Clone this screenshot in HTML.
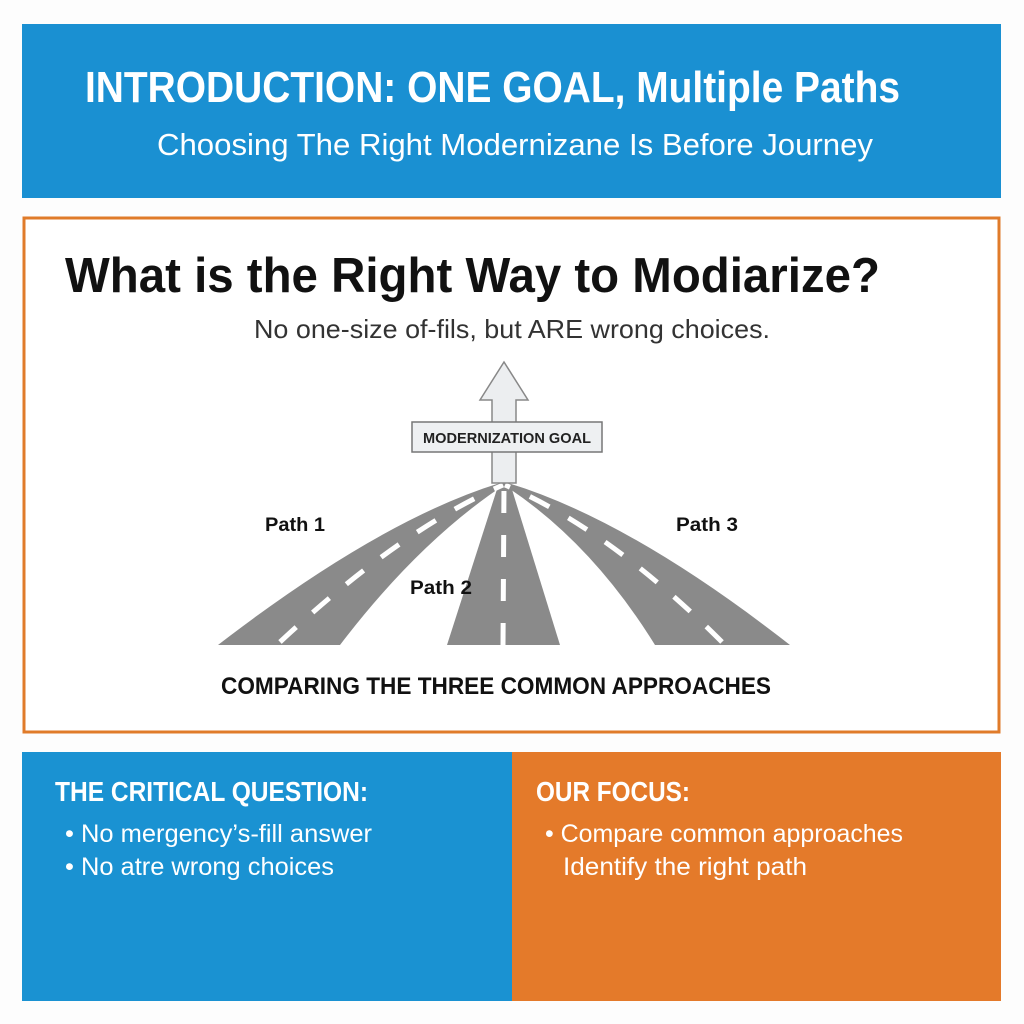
<!DOCTYPE html>
<html><head><meta charset="utf-8"><style>
html,body{margin:0;padding:0;background:#fff;width:1024px;height:1024px;overflow:hidden}
svg{display:block}
</style></head><body>
<svg width="1024" height="1024" viewBox="0 0 1024 1024" xmlns="http://www.w3.org/2000/svg" font-family="Liberation Sans, sans-serif">
<rect width="1024" height="1024" fill="#fdfdfd"/>
<rect x="22" y="24" width="979" height="174" fill="#1a90d2"/>
<text x="85" y="102" font-size="44" font-weight="bold" fill="#fff" textLength="815" lengthAdjust="spacingAndGlyphs">INTRODUCTION: ONE GOAL, Multiple Paths</text>
<text x="157" y="155" font-size="31" fill="#fff" textLength="716" lengthAdjust="spacingAndGlyphs">Choosing The Right Modernizane Is Before Journey</text>

<rect x="24" y="218" width="975" height="514" fill="#fff" stroke="#e07b2a" stroke-width="3"/>
<text x="65" y="292" font-size="49" font-weight="bold" fill="#111" textLength="815" lengthAdjust="spacingAndGlyphs">What is the Right Way to Modiarize?</text>
<text x="254" y="338" font-size="26" fill="#333" textLength="516" lengthAdjust="spacingAndGlyphs">No one-size of-fils, but ARE wrong choices.</text>

<!-- roads -->
<g fill="#8a8a8a">
<path d="M218,645 Q380,520 500,483 L507,483 Q420,540 340,645 Z"/>
<path d="M447,645 L499,483 L510,483 L560,645 Z"/>
<path d="M790,645 Q630,520 508,483 L501,483 Q590,540 655,645 Z"/>
</g>
<g fill="none" stroke="#fff" stroke-width="5" stroke-dasharray="22 22">
<path d="M280,642 Q400,530 503,485"/>
<path d="M503,645 L504,485"/>
<path d="M722,642 Q610,530 505,485"/>
</g>
<!-- arrow -->
<path d="M504,362 L528,400 L516,400 L516,483 L492,483 L492,400 L480,400 Z" fill="#eceef0" stroke="#888" stroke-width="1.5"/>
<rect x="412" y="422" width="190" height="30" fill="#eef0f2" stroke="#777" stroke-width="1.5"/>
<text x="423" y="443" font-size="15" font-weight="bold" fill="#222" textLength="168" lengthAdjust="spacingAndGlyphs">MODERNIZATION GOAL</text>
<text x="265" y="531" font-size="19" font-weight="bold" fill="#111" textLength="60" lengthAdjust="spacingAndGlyphs">Path 1</text>
<text x="410" y="594" font-size="19" font-weight="bold" fill="#111" textLength="62" lengthAdjust="spacingAndGlyphs">Path 2</text>
<text x="676" y="531" font-size="19" font-weight="bold" fill="#111" textLength="62" lengthAdjust="spacingAndGlyphs">Path 3</text>
<text x="221" y="694" font-size="24" font-weight="bold" fill="#111" textLength="550" lengthAdjust="spacingAndGlyphs">COMPARING THE THREE COMMON APPROACHES</text>

<rect x="22" y="752" width="490" height="249" fill="#1a92d2"/>
<rect x="512" y="752" width="489" height="249" fill="#e47a2a"/>
<text x="55" y="801" font-size="28" font-weight="bold" fill="#fff" textLength="313" lengthAdjust="spacingAndGlyphs">THE CRITICAL QUESTION:</text>
<text x="65" y="842" font-size="25" fill="#fff" textLength="307" lengthAdjust="spacingAndGlyphs">• No mergency’s-fill answer</text>
<text x="65" y="875" font-size="25" fill="#fff" textLength="269" lengthAdjust="spacingAndGlyphs">• No atre wrong choices</text>
<text x="536" y="801" font-size="28" font-weight="bold" fill="#fff" textLength="154" lengthAdjust="spacingAndGlyphs">OUR FOCUS:</text>
<text x="545" y="842" font-size="25" fill="#fff" textLength="358" lengthAdjust="spacingAndGlyphs">• Compare common approaches</text>
<text x="563" y="875" font-size="25" fill="#fff" textLength="244" lengthAdjust="spacingAndGlyphs">Identify the right path</text>
</svg>
</body></html>
